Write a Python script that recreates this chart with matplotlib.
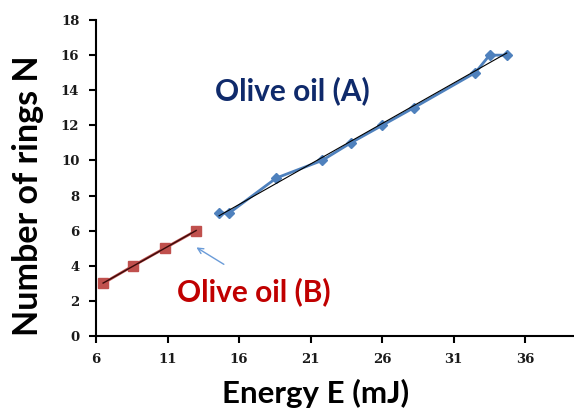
import numpy as np
import matplotlib
matplotlib.use("Agg")
import matplotlib.pyplot as plt

# Olive oil (A)
energy_a = [14.6, 15.3, 18.6, 21.8, 23.8, 26.0, 28.2, 32.5, 33.5, 34.7]
rings_a = [7, 7, 9, 10, 11, 12, 13, 15, 16, 16]

# Olive oil (B)
energy_b = [6.5, 8.6, 10.8, 13.0]
rings_b = [3, 4, 5, 6]

x_ticks = [6, 11, 16, 21, 26, 31, 36]
y_ticks = [0, 2, 4, 6, 8, 10, 12, 14, 16, 18]

label_font = ["Lato", "DejaVu Sans"]
tick_font = ["DejaVu Serif"]

fig = plt.figure(figsize=(5.74, 4.09), dpi=100)
ax = fig.add_axes([0.1672, 0.1785, 0.8328, 0.7725])

# data lines
ax.plot(energy_a, rings_a, color="#4F81BD", lw=2, marker="D", ms=5.5,
        mec="#4F81BD", mfc="#4F81BD", zorder=3)
ax.plot(energy_b, rings_b, color="#C0504D", lw=2, marker="s", ms=7,
        mec="#C0504D", mfc="#C0504D", zorder=3)

# linear trend lines
pa = np.polyfit(energy_a, rings_a, 1)
xa = np.array([min(energy_a), max(energy_a)])
ax.plot(xa, np.polyval(pa, xa), color="black", lw=0.8, zorder=4)
pb = np.polyfit(energy_b, rings_b, 1)
xb = np.array([min(energy_b), max(energy_b)])
ax.plot(xb, np.polyval(pb, xb), color="#3a0a0a", lw=1.0, zorder=4)

# annotations
ax.text(19.75, 13.95, "Olive oil (A)", color="#0F2A6B", fontsize=21.5,
        fontweight="bold", family=label_font, ha="center", va="center")
ax.text(17.05, 2.55, "Olive oil (B)", color="#C00000", fontsize=21.5,
        fontweight="bold", family=label_font, ha="center", va="center")
ax.annotate("", xy=(12.85, 5.13), xytext=(15.1, 4.0),
            arrowprops=dict(arrowstyle="->", color="#6A9BD8", lw=1.0))

ax.set_xlim(6, 39.4)
ax.set_ylim(0, 18)
ax.set_xticks(x_ticks)
ax.set_yticks(y_ticks)
for lab in ax.get_xticklabels() + ax.get_yticklabels():
    lab.set_family(tick_font)
    lab.set_fontweight("bold")
    lab.set_fontsize(9.5)
    lab.set_color("#1a1a1a")
ax.tick_params(direction="out", length=5, width=1.5, pad=7)

for s in ["top", "right"]:
    ax.spines[s].set_visible(False)
for s in ["left", "bottom"]:
    ax.spines[s].set_linewidth(1.5)

ax.set_xlabel("Energy E (mJ)", fontsize=22.5, fontweight="bold",
              family=label_font, va="baseline")
ax.xaxis.set_label_coords(0.459, -0.212)
ax.set_ylabel("Number of rings N", fontsize=24.5, fontweight="bold",
              family=label_font, va="center")
ax.yaxis.set_label_coords(-0.142, 0.445)

fig.savefig("out.png", dpi=100)
